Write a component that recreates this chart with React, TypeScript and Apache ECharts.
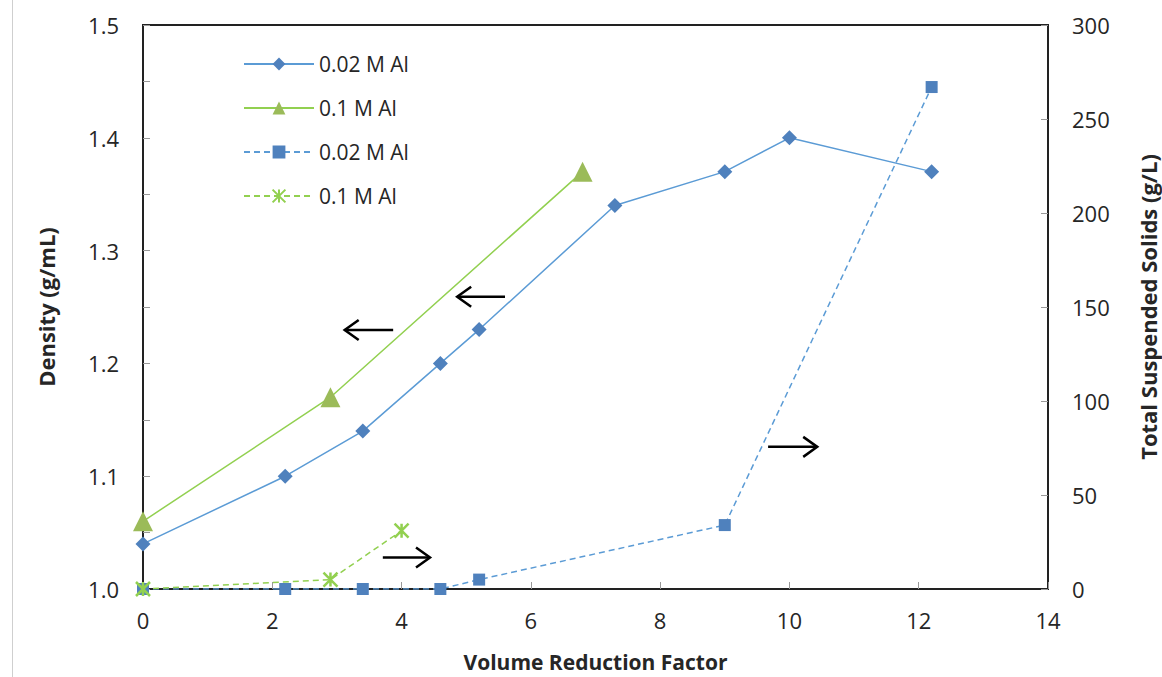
import React, { useEffect, useRef } from "react";
import * as echarts from "echarts";

const densX002 = [0, 2.2, 3.4, 4.6, 5.2, 7.3, 9.0, 10.0, 12.2];
const dens002 = [1.04, 1.1, 1.14, 1.2, 1.23, 1.34, 1.37, 1.4, 1.37];
const densX01 = [0, 2.9, 6.8];
const dens01 = [1.06, 1.17, 1.37];
const tssX002 = [0, 2.2, 3.4, 4.6, 5.2, 9.0, 12.2];
const tss002 = [0, 0, 0, 0, 5, 34, 267];
const tssX01 = [0, 2.9, 4.0];
const tss01 = [0, 5, 31];

const seriesNames = ["0.02 M Al", "0.1 M Al", "0.02 M Al ", "0.1 M Al "];
const xAxisTitle = "Volume Reduction Factor";
const leftTitle = "Density (g/mL)";
const rightTitle = "Total Suspended Solids (g/L)";

// annotation arrows: [x1, x2, y] in left-axis data coordinates, direction
const arrows: [number, number, number, "left" | "right"][] = [
  [3.12, 3.87, 1.2296, "left"],
  [4.86, 5.6, 1.259, "left"],
  [3.71, 4.44, 1.028, "right"],
  [9.67, 10.43, 1.126, "right"],
];

const zip = (xs: number[], ys: number[]) => xs.map((x, i) => [x, ys[i]]);

const FONT = "Open Sans";
const TXT = "#262626";
const ASTER = "path://M0,0L10,10M10,0L0,10M5,0L5,10";

export default function App() {
  const ref = useRef<HTMLDivElement>(null);
  useEffect(() => {
    if (!ref.current) return;
    const chart = echarts.init(ref.current, null, { renderer: "svg" });
    const blueLine = "#5B9BD5";
    const blueMark = "#4F81BD";
    const greenLine = "#92D050";
    const greenMark = "#9BBB59";
    const axisLine = { show: true, lineStyle: { color: "#222", width: 2 } };
    const axisLabel = { color: TXT, fontFamily: FONT, fontSize: 22 };
    const nameStyle = {
      color: TXT,
      fontFamily: FONT,
      fontSize: 22,
      lineHeight: 24,
      fontWeight: "bold" as const,
    };
    chart.setOption({
      animation: false,
      backgroundColor: "#fff",
      grid: {
        left: 143,
        right: 114,
        top: 25,
        bottom: 88,
        containLabel: false,
        outerBoundsMode: "none",
        show: true,
        borderColor: "#222",
        borderWidth: 2,
        backgroundColor: "transparent",
      },
      legend: {
        orient: "vertical",
        left: 243,
        top: 53,
        padding: 0,
        itemWidth: 70,
        itemHeight: 16,
        itemGap: 22,
        selectedMode: false,
        textStyle: { color: TXT, fontFamily: FONT, fontSize: 21, lineHeight: 22 },
        data: seriesNames,
      },
      xAxis: {
        type: "value",
        min: 0,
        max: 14,
        interval: 2,
        axisLine,
        axisTick: { show: true, inside: true, length: 7, lineStyle: { color: "#999" } },
        axisLabel: { ...axisLabel, margin: 20 },
        splitLine: { show: false },
        name: xAxisTitle,
        nameLocation: "middle",
        nameGap: 62,
        nameTextStyle: { ...nameStyle, fontSize: 21, lineHeight: 22 },
      },
      yAxis: [
        {
          type: "value",
          min: 1.0,
          max: 1.5,
          interval: 0.1,
          axisLine,
          axisTick: { show: true, inside: true, length: 7, lineStyle: { color: "#999" } },
          minorTick: { show: true, splitNumber: 2, length: 7, lineStyle: { color: "#999" } },
          axisLabel: { ...axisLabel, margin: 24, formatter: (v: number) => v.toFixed(1) },
          splitLine: { show: false },
          name: leftTitle,
          nameLocation: "middle",
          nameGap: 85,
          nameRotate: 90,
          nameTextStyle: nameStyle,
        },
        {
          type: "value",
          min: 0,
          max: 300,
          interval: 50,
          position: "right",
          axisLine,
          axisTick: { show: true, inside: true, length: 7, lineStyle: { color: "#999" } },
          axisLabel: { ...axisLabel, margin: 24 },
          splitLine: { show: false },
          name: rightTitle,
          nameLocation: "middle",
          nameGap: 88,
          nameRotate: 90,
          nameTextStyle: nameStyle,
        },
      ],
      series: [
        {
          name: seriesNames[0],
          type: "line",
          yAxisIndex: 0,
          data: zip(densX002, dens002),
          symbol: "diamond",
          symbolSize: 15,
          itemStyle: { color: blueMark },
          lineStyle: { color: blueLine, width: 1.5 },
        },
        {
          name: seriesNames[1],
          type: "line",
          yAxisIndex: 0,
          data: zip(densX01, dens01),
          symbol: "triangle",
          symbolSize: [20, 20],
          itemStyle: { color: greenMark },
          lineStyle: { color: greenLine, width: 1.5 },
        },
        {
          name: seriesNames[2],
          type: "line",
          yAxisIndex: 1,
          data: zip(tssX002, tss002),
          symbol: "rect",
          symbolSize: 12,
          itemStyle: { color: blueMark },
          lineStyle: { color: blueLine, width: 1.5, type: [6, 4] },
        },
        {
          name: seriesNames[3],
          type: "line",
          yAxisIndex: 1,
          data: zip(tssX01, tss01),
          symbol: ASTER,
          symbolSize: 14,
          itemStyle: { color: greenLine, borderColor: greenLine, borderWidth: 2.5 },
          lineStyle: { color: greenLine, width: 1.5, type: [6, 4] },
        },
      ],
    });

    const graphics: any[] = [
      {
        type: "line",
        shape: { x1: 12.5, y1: 0, x2: 12.5, y2: 677 },
        style: { stroke: "#cfcfcf", lineWidth: 1 },
        silent: true,
      },
    ];
    arrows.forEach(([xa, xb, yv, dir]) => {
      const p1 = chart.convertToPixel({ gridIndex: 0 }, [xa, yv]) as number[];
      const p2 = chart.convertToPixel({ gridIndex: 0 }, [xb, yv]) as number[];
      const y = p1[1];
      graphics.push({
        type: "line",
        shape: { x1: p1[0], y1: y, x2: p2[0], y2: y },
        style: { stroke: "#000", lineWidth: 2.5 },
        silent: true,
      });
      const tip = dir === "left" ? p1[0] : p2[0];
      const back = dir === "left" ? tip + 14 : tip - 14;
      graphics.push({
        type: "polyline",
        shape: { points: [[back, y - 10], [tip, y], [back, y + 10]] },
        style: { stroke: "#000", lineWidth: 2.5, fill: "none" },
        silent: true,
      });
    });
    chart.setOption({ graphic: graphics });

    return () => chart.dispose();
  }, []);
  return (
    <div
      ref={ref}
      style={{ position: "fixed", left: 0, top: 0, width: 1162, height: 677 }}
    />
  );
}
